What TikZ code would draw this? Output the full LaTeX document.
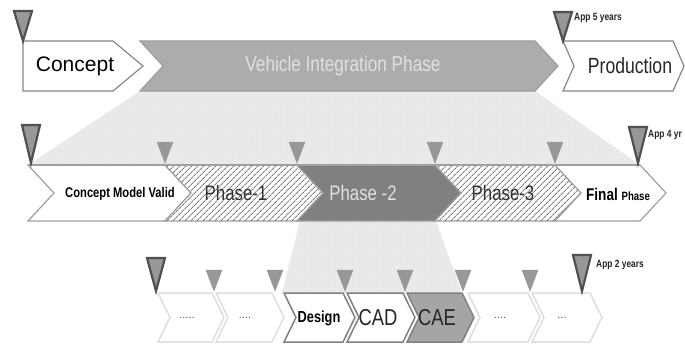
\documentclass[tikz,border=0pt]{standalone}
\usepackage{fontspec}
\setmainfont{Liberation Sans}
\newfontfamily\narrowfont[FakeStretch=0.8]{Liberation Sans}
\usepackage{xcolor}
\usetikzlibrary{patterns, patterns.meta}

\definecolor{outlinegray}{RGB}{135,135,135}
\definecolor{rowgray}{RGB}{160,160,160}
\definecolor{midgray}{RGB}{172,172,172}
\definecolor{darkphase}{RGB}{128,128,128}
\definecolor{caegray}{RGB}{165,165,165}
\definecolor{shadegray}{RGB}{232,232,232}
\definecolor{markgray}{RGB}{152,152,152}
\definecolor{markedge}{RGB}{80,80,80}
\definecolor{faintgray}{RGB}{222,222,222}
\definecolor{hatchgray}{RGB}{125,125,125}

% chevron: style, left x, right x, top y, bottom y, depth
\newcommand{\chevron}[6]{%
	\pgfmathsetmacro{\chevmid}{(#4+#5)/2}
	\pgfmathsetmacro{\chevtip}{#3+#6}
	\pgfmathsetmacro{\chevnotch}{#2+#6}
	\filldraw[#1] (#2,#4) -- (#3,#4) -- (\chevtip,\chevmid) -- (#3,#5) -- (#2,#5) -- (\chevnotch,\chevmid) -- cycle;
}
% milestone markers: x, apex y, top y
\newcommand{\bigmark}[3]{\filldraw[bigmarker] (#1-9,#3) -- (#1+9,#3) -- (#1,#2) -- cycle;}
\newcommand{\smallmark}[3]{\filldraw[smallmarker] (#1-8,#3) -- (#1+8,#3) -- (#1,#2) -- cycle;}

\tikzset{
	plainbox/.style = {fill = white, draw = outlinegray, line width = 1.2pt},
	greybox/.style = {fill = midgray, draw = outlinegray!80, line width = 1.2pt},
	rowbox/.style = {fill = white, draw = rowgray, line width = 1.2pt},
	hatchbox/.style = {rowbox, postaction = {pattern = {Lines[angle = 45, distance = 4pt, line width = 0.9pt]}, pattern color = hatchgray}},
	darkbox/.style = {fill = darkphase, draw = rowgray, line width = 1.2pt},
	faintbox/.style = {fill = white, draw = faintgray, line width = 1.5pt},
	taskbox/.style = {fill = white, draw = darkphase, line width = 1.5pt},
	caebox/.style = {fill = caegray, draw = darkphase, line width = 1.5pt},
	funnel/.style = {fill = shadegray, postaction = {pattern = dots, pattern color = white}},
	bigmarker/.style = {fill = markgray, draw = markedge, line width = 2.2pt},
	smallmarker/.style = {fill = markgray, draw = markgray, line width = 0.5pt},
	years/.style = {font = \narrowfont\bfseries\fontsize{10.5}{12}\selectfont, text = black!85, anchor = west, inner sep = 0pt}
}

\begin{document}
\begin{tikzpicture}[x = 1pt, y = -1pt]
	\useasboundingbox (0,0) rectangle (685,345);

	% funnels between the levels
	\fill[funnel] (140,91) -- (535,91) -- (640,165) -- (28,165) -- cycle;
	\fill[funnel] (300,221) -- (436,221) -- (462,293) -- (282,293) -- cycle;

	% top level
	\filldraw[plainbox] (23,41) -- (113,41) -- (143,66) -- (113,91) -- (23,91) -- cycle;
	\chevron{greybox}{140}{535}{41}{91}{23}
	\chevron{plainbox}{563}{673}{41}{91}{11}

	\node (concept) at (75,66) {\fontsize{21}{24}\selectfont Concept};
	\node[text = white!88!black] (integration) at (343,66) {\narrowfont\fontsize{21.5}{24}\selectfont Vehicle Integration Phase};
	\node[text = black!85] (production) at (630,66) {\narrowfont\fontsize{22}{24}\selectfont Production};

	% middle level
	\chevron{rowbox}{28}{165}{165}{221}{26}
	\chevron{hatchbox}{165}{297}{165}{221}{26}
	\chevron{darkbox}{297}{435}{165}{221}{26}
	\chevron{hatchbox}{435}{555}{165}{221}{26}
	\chevron{rowbox}{555}{640}{165}{221}{26}
	\draw[rowgray, line width = 2pt] (28,165) -- (640,165);

	\node (modelvalid) at (120,194) {\narrowfont\bfseries\fontsize{14}{16}\selectfont Concept Model Valid};
	\node[text = black!80] (phaseone) at (236,193) {\narrowfont\fontsize{21}{24}\selectfont Phase-1};
	\node[text = white!88!black] (phasetwo) at (363,193) {\narrowfont\fontsize{21}{24}\selectfont Phase -2};
	\node[text = black!80] (phasethree) at (503,193) {\narrowfont\fontsize{21}{24}\selectfont Phase-3};
	\node (finalphase) at (618,194) {\narrowfont\bfseries\fontsize{17}{18}\selectfont Final {\fontsize{12}{13}\selectfont Phase}};

	% bottom level
	\chevron{faintbox}{158}{212}{293}{342}{12}
	\chevron{faintbox}{216}{272}{293}{342}{12}
	\chevron{taskbox}{284}{343}{293}{342}{12}
	\chevron{taskbox}{347}{403}{293}{342}{12}
	\chevron{caebox}{407}{462}{293}{342}{12}
	\chevron{faintbox}{468}{528}{293}{342}{12}
	\chevron{faintbox}{532}{590}{293}{342}{12}

	\node[text = black!70] (dotsA) at (187,318) {\fontsize{11}{12}\selectfont .....};
	\node[text = black!70] (dotsB) at (245,318) {\fontsize{11}{12}\selectfont ....};
	\node (design) at (319,318) {\narrowfont\bfseries\fontsize{16}{18}\selectfont Design};
	\node[text = black!85] (cad) at (378,318) {\narrowfont\fontsize{23}{26}\selectfont CAD};
	\node[text = black!85] (cae) at (437,318) {\narrowfont\fontsize{23}{26}\selectfont CAE};
	\node[text = black!70] (dotsC) at (500,318) {\fontsize{11}{12}\selectfont ....};
	\node[text = black!70] (dotsD) at (562,318) {\fontsize{11}{12}\selectfont ...};

	% milestones
	\bigmark{23}{41}{11}
	\bigmark{563}{41}{12}
	\node[years] (yearsfive) at (574,18) {App 5 years};

	\bigmark{31}{163}{125}
	\foreach \mx in {165, 297, 435, 555}
		\smallmark{\mx}{163}{142};
	\bigmark{638}{163}{127}
	\node[years] (yearsfour) at (648,135) {App 4 yr};

	\bigmark{156}{291}{258}
	\foreach \mx in {214, 275, 345, 405, 463, 530}
		\smallmark{\mx}{291}{270};
	\bigmark{582}{291}{255}
	\node[years] (yearstwo) at (596,265) {App 2 years};
\end{tikzpicture}
\end{document}
